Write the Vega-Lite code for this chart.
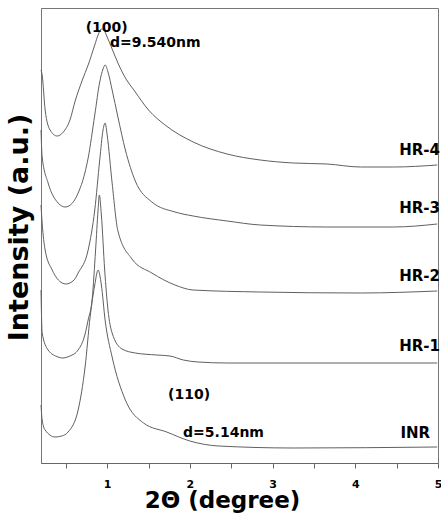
{
  "$schema": "https://vega.github.io/schema/vega-lite/v6.json",
  "width": 397,
  "height": 455,
  "autosize": {"type": "none"},
  "padding": {"left": 41, "top": 8, "right": 3, "bottom": 59},
  "background": "white",
  "config": {
    "view": {"stroke": "#777", "strokeWidth": 1},
    "font": "DejaVu Sans"
  },
  "datasets": {
    "curves": [
      {"sample": "HR-4", "x": 0.2, "y": 393}, {"sample": "HR-4", "x": 0.214, "y": 388}, {"sample": "HR-4", "x": 0.25, "y": 353},
      {"sample": "HR-4", "x": 0.31, "y": 333}, {"sample": "HR-4", "x": 0.395, "y": 327}, {"sample": "HR-4", "x": 0.47, "y": 331},
      {"sample": "HR-4", "x": 0.55, "y": 343}, {"sample": "HR-4", "x": 0.613, "y": 362}, {"sample": "HR-4", "x": 0.7, "y": 383},
      {"sample": "HR-4", "x": 0.77, "y": 398}, {"sample": "HR-4", "x": 0.85, "y": 418}, {"sample": "HR-4", "x": 0.89, "y": 428},
      {"sample": "HR-4", "x": 0.93, "y": 434}, {"sample": "HR-4", "x": 0.96, "y": 433}, {"sample": "HR-4", "x": 1.0, "y": 426},
      {"sample": "HR-4", "x": 1.06, "y": 414}, {"sample": "HR-4", "x": 1.13, "y": 400}, {"sample": "HR-4", "x": 1.2, "y": 388},
      {"sample": "HR-4", "x": 1.34, "y": 371}, {"sample": "HR-4", "x": 1.5, "y": 353}, {"sample": "HR-4", "x": 1.7, "y": 338},
      {"sample": "HR-4", "x": 2.04, "y": 321}, {"sample": "HR-4", "x": 2.45, "y": 309}, {"sample": "HR-4", "x": 2.85, "y": 303},
      {"sample": "HR-4", "x": 3.25, "y": 300}, {"sample": "HR-4", "x": 3.66, "y": 299}, {"sample": "HR-4", "x": 4.06, "y": 296},
      {"sample": "HR-4", "x": 4.46, "y": 296}, {"sample": "HR-4", "x": 4.99, "y": 298},

      {"sample": "HR-3", "x": 0.2, "y": 333}, {"sample": "HR-3", "x": 0.214, "y": 306}, {"sample": "HR-3", "x": 0.286, "y": 280},
      {"sample": "HR-3", "x": 0.407, "y": 260}, {"sample": "HR-3", "x": 0.492, "y": 256}, {"sample": "HR-3", "x": 0.58, "y": 260},
      {"sample": "HR-3", "x": 0.649, "y": 270}, {"sample": "HR-3", "x": 0.73, "y": 290}, {"sample": "HR-3", "x": 0.77, "y": 305},
      {"sample": "HR-3", "x": 0.85, "y": 348}, {"sample": "HR-3", "x": 0.91, "y": 381}, {"sample": "HR-3", "x": 0.95, "y": 394},
      {"sample": "HR-3", "x": 0.975, "y": 398}, {"sample": "HR-3", "x": 1.01, "y": 391}, {"sample": "HR-3", "x": 1.06, "y": 373},
      {"sample": "HR-3", "x": 1.13, "y": 346}, {"sample": "HR-3", "x": 1.22, "y": 313}, {"sample": "HR-3", "x": 1.34, "y": 282},
      {"sample": "HR-3", "x": 1.54, "y": 261}, {"sample": "HR-3", "x": 1.82, "y": 251}, {"sample": "HR-3", "x": 2.04, "y": 247},
      {"sample": "HR-3", "x": 2.45, "y": 242}, {"sample": "HR-3", "x": 2.85, "y": 238}, {"sample": "HR-3", "x": 3.66, "y": 236},
      {"sample": "HR-3", "x": 4.46, "y": 236}, {"sample": "HR-3", "x": 4.99, "y": 239},

      {"sample": "HR-2", "x": 0.2, "y": 258}, {"sample": "HR-2", "x": 0.214, "y": 240}, {"sample": "HR-2", "x": 0.25, "y": 213},
      {"sample": "HR-2", "x": 0.335, "y": 193}, {"sample": "HR-2", "x": 0.456, "y": 180}, {"sample": "HR-2", "x": 0.5, "y": 179},
      {"sample": "HR-2", "x": 0.6, "y": 183}, {"sample": "HR-2", "x": 0.649, "y": 190}, {"sample": "HR-2", "x": 0.77, "y": 213},
      {"sample": "HR-2", "x": 0.85, "y": 253}, {"sample": "HR-2", "x": 0.91, "y": 303}, {"sample": "HR-2", "x": 0.95, "y": 333},
      {"sample": "HR-2", "x": 0.975, "y": 340}, {"sample": "HR-2", "x": 1.0, "y": 328}, {"sample": "HR-2", "x": 1.06, "y": 280},
      {"sample": "HR-2", "x": 1.13, "y": 232}, {"sample": "HR-2", "x": 1.3, "y": 204}, {"sample": "HR-2", "x": 1.54, "y": 190},
      {"sample": "HR-2", "x": 1.82, "y": 178}, {"sample": "HR-2", "x": 2.04, "y": 173}, {"sample": "HR-2", "x": 2.85, "y": 171},
      {"sample": "HR-2", "x": 4.06, "y": 170}, {"sample": "HR-2", "x": 4.99, "y": 172},

      {"sample": "HR-1", "x": 0.2, "y": 173}, {"sample": "HR-1", "x": 0.214, "y": 130}, {"sample": "HR-1", "x": 0.286, "y": 113},
      {"sample": "HR-1", "x": 0.407, "y": 106}, {"sample": "HR-1", "x": 0.456, "y": 105}, {"sample": "HR-1", "x": 0.55, "y": 107},
      {"sample": "HR-1", "x": 0.649, "y": 113}, {"sample": "HR-1", "x": 0.73, "y": 128}, {"sample": "HR-1", "x": 0.77, "y": 143},
      {"sample": "HR-1", "x": 0.82, "y": 165}, {"sample": "HR-1", "x": 0.86, "y": 213}, {"sample": "HR-1", "x": 0.89, "y": 253},
      {"sample": "HR-1", "x": 0.905, "y": 268}, {"sample": "HR-1", "x": 0.93, "y": 248}, {"sample": "HR-1", "x": 0.97, "y": 193},
      {"sample": "HR-1", "x": 1.01, "y": 153}, {"sample": "HR-1", "x": 1.06, "y": 130}, {"sample": "HR-1", "x": 1.18, "y": 114},
      {"sample": "HR-1", "x": 1.34, "y": 110}, {"sample": "HR-1", "x": 1.6, "y": 108}, {"sample": "HR-1", "x": 1.76, "y": 107},
      {"sample": "HR-1", "x": 1.92, "y": 103}, {"sample": "HR-1", "x": 2.1, "y": 101}, {"sample": "HR-1", "x": 2.45, "y": 100},
      {"sample": "HR-1", "x": 4.99, "y": 100},

      {"sample": "INR", "x": 0.2, "y": 58}, {"sample": "INR", "x": 0.214, "y": 43}, {"sample": "INR", "x": 0.25, "y": 33},
      {"sample": "INR", "x": 0.371, "y": 26}, {"sample": "INR", "x": 0.45, "y": 27}, {"sample": "INR", "x": 0.528, "y": 31},
      {"sample": "INR", "x": 0.649, "y": 53}, {"sample": "INR", "x": 0.733, "y": 96}, {"sample": "INR", "x": 0.794, "y": 146},
      {"sample": "INR", "x": 0.85, "y": 178}, {"sample": "INR", "x": 0.89, "y": 193}, {"sample": "INR", "x": 0.93, "y": 178},
      {"sample": "INR", "x": 0.975, "y": 143}, {"sample": "INR", "x": 1.06, "y": 106}, {"sample": "INR", "x": 1.22, "y": 63},
      {"sample": "INR", "x": 1.44, "y": 40}, {"sample": "INR", "x": 1.72, "y": 31}, {"sample": "INR", "x": 2.0, "y": 22},
      {"sample": "INR", "x": 2.35, "y": 17}, {"sample": "INR", "x": 3.25, "y": 15}, {"sample": "INR", "x": 4.99, "y": 16}
    ],
    "tags": [
      {"label": "HR-4", "x": 5.0, "y": 313},
      {"label": "HR-3", "x": 5.0, "y": 255},
      {"label": "HR-2", "x": 5.0, "y": 187},
      {"label": "HR-1", "x": 5.0, "y": 117},
      {"label": "INR", "x": 4.88, "y": 30}
    ],
    "notes": [
      {"label": "(100)", "x": 0.74, "y": 435},
      {"label": "d=9.540nm", "x": 1.035, "y": 420},
      {"label": "(110)", "x": 1.736, "y": 68},
      {"label": "d=5.14nm", "x": 1.918, "y": 30}
    ]
  },
  "layer": [
    {
      "data": {"name": "curves"},
      "mark": {"type": "line", "color": "#606060", "strokeWidth": 1, "interpolate": "monotone"},
      "encoding": {
        "x": {
          "field": "x", "type": "quantitative",
          "scale": {"domain": [0.2, 5], "nice": false, "zero": false},
          "axis": {
            "values": [0.5, 1, 1.5, 2, 2.5, 3, 3.5, 4, 4.5, 5],
            "labelExpr": "datum.value % 1 === 0 ? format(datum.value, 'd') : ''",
            "grid": false, "tickSize": 5, "tickColor": "#666", "domainColor": "#666",
            "labelFont": "DejaVu Sans", "labelFontWeight": "bold", "labelFontSize": 11, "labelColor": "#000",
            "labelPadding": 10, "labelFlush": false, "labelOverlap": false,
            "title": "2Θ (degree)", "titleFont": "DejaVu Sans", "titleFontWeight": "bold", "titleFontSize": 23,
            "titleColor": "#000", "titlePadding": 0, "titleX": 181
          }
        },
        "y": {
          "field": "y", "type": "quantitative",
          "scale": {"domain": [0, 455], "nice": false, "zero": false},
          "axis": {
            "ticks": false, "labels": false, "grid": false, "domainColor": "#777",
            "title": "Intensity (a.u.)", "titleFont": "DejaVu Sans", "titleFontWeight": "bold", "titleFontSize": 27,
            "titleColor": "#000", "titlePadding": 8, "titleY": 219
          }
        },
        "detail": {"field": "sample"}
      }
    },
    {
      "data": {"name": "tags"},
      "mark": {"type": "text", "align": "right", "baseline": "middle", "font": "DejaVu Sans", "fontWeight": "bold", "fontSize": 15, "color": "#000", "dx": 2},
      "encoding": {
        "x": {"field": "x", "type": "quantitative"},
        "y": {"field": "y", "type": "quantitative"},
        "text": {"field": "label"}
      }
    },
    {
      "data": {"name": "notes"},
      "mark": {"type": "text", "align": "left", "baseline": "middle", "font": "DejaVu Sans", "fontWeight": "bold", "fontSize": 14, "color": "#000"},
      "encoding": {
        "x": {"field": "x", "type": "quantitative"},
        "y": {"field": "y", "type": "quantitative"},
        "text": {"field": "label"}
      }
    }
  ]
}
